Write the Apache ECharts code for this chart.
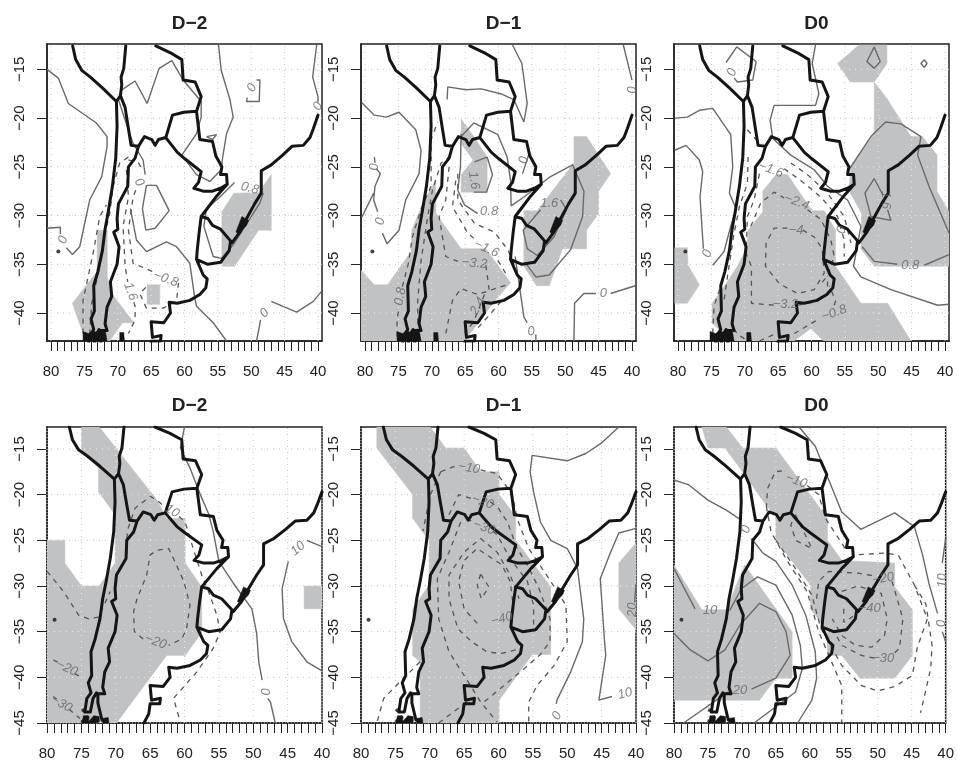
<!DOCTYPE html>
<html><head><meta charset="utf-8">
<style>html,body{margin:0;padding:0;background:#fff}#c{width:957px;height:761px}</style>
<script src="https://cdn.jsdelivr.net/npm/echarts@6/dist/echarts.min.js"></script>
</head><body><div id="c"></div>
<script>
// ---- tick labels ----
const lonMajor = [80,75,70,65,60,55,50,45,40];
const lonMinor = [80,79,78,77,76,75,74,73,72,71,70,69,68,67,66,65,64,63,62,61,60,59,58,57,56,55,54,53,52,51,50,49,48,47,46,45,44,43,42,41,40];
const latTop = [-15,-20,-25,-30,-35,-40];
const latBottom = [-15,-20,-25,-30,-35,-40,-45];
const titles = ['D\u22122','D\u22121','D0','D\u22122','D\u22121','D0'];

// ---- map outlines [lon, lat] ----
const coastPacific = [[76.75,-12.6],[76.3,-14],[75.4,-15.1],[74.1,-15.8],[72.3,-16.9],[70.2,-18.3],[70.1,-20.8],[70.3,-24.1],[70.8,-27],[71.4,-29.5],[71.9,-31.4],[72.3,-33.6],[73,-35.8],[73.6,-37.2],[73.5,-39.8],[74,-40.6],[73.6,-41.7],[74.2,-42.3],[74.5,-43.8],[73.7,-43.8],[73.3,-42.3],[72.8,-41.7]];
const borderAndesNorth = [[68.8,-12.6],[69.1,-14.9],[69.5,-15.8],[69.4,-16.6],[69.6,-17.7],[70.2,-18.3]];
const borderAndes = [[69.6,-17.7],[68.9,-18.9],[68.4,-21.1],[68,-22.8],[66.9,-22.9],[67.4,-24.1],[68.4,-25],[68.5,-27],[69.9,-28.8],[70.1,-30.3],[70,-31.4],[70.6,-31.7],[69.8,-33.2],[70.1,-35],[71.1,-36.8],[70.9,-38.3],[71.6,-39.4],[71.9,-41.1],[71.6,-41.8],[72.6,-41.8],[72.6,-42.8],[72,-44.7],[71.3,-44.7]];
const borderParaguay = [[66.9,-22.9],[66,-21.9],[64.9,-22.2],[64.4,-22.8],[63.9,-22.2],[62.8,-22],[61.1,-23.5],[59.9,-24.2],[57.5,-25.5],[57.9,-26.6],[58.6,-27.2],[57.2,-27.5],[55.8,-27.5],[54.6,-27.2],[53.6,-26.8],[53.7,-25.8],[54.6,-25.8],[54.4,-25],[55.3,-23.9],[55.8,-22.4],[57.7,-22.2],[58.2,-19.3],[60.1,-19.4],[61.8,-19.7],[62.8,-22]];
const borderBolivia = [[58.2,-19.3],[57.5,-17.8],[58.4,-16.3],[60.2,-16.1],[60.4,-14],[62.1,-13.3],[64.3,-12.6]];
const borderRiverUruguay = [[53.6,-26.8],[55.3,-28.1],[57.5,-30.1],[56.5,-30.3],[55.8,-31],[54.6,-31.4],[53.1,-32.6]];
const coastUruguay = [[57.5,-30.1],[57.8,-31.7],[58.1,-33.6],[58.2,-34.5],[56.5,-35],[54.6,-34.8],[53.3,-33.6],[53.1,-32.6]];
const coastArgentina = [[58.2,-34.5],[57.2,-36.1],[56.6,-36.5],[56.8,-37.4],[57.7,-38.1],[59.2,-38.7],[61.1,-39],[62.3,-38.9],[62.1,-40],[63.1,-41],[65,-40.9],[64.8,-42.5],[63.5,-42.3],[63.6,-42.9],[65,-42.9],[65.2,-44],[65.9,-45]];
const coastBrazil = [[40,-19.7],[40.7,-21.1],[41.2,-22],[42.2,-22.8],[43.9,-22.9],[45.3,-23.8],[47,-24.8],[48.5,-25.4],[48.5,-27.7],[49.5,-28.8],[50.7,-30.3],[51.7,-31.7],[52.9,-32.8],[53.1,-32.6]];
const lagoon = [[51.4,-30.1],[50.4,-30.5],[50.7,-31],[51.9,-31.9],[52.3,-31.7]];
const fuegoBlobsBottom = [[74.7,-44.2],[74,-44.2],[73.9,-44.8],[73.2,-44.2],[72.4,-44.3],[72.4,-44.9],[73,-45],[74.9,-45]];
const fuegoBlobsBottomEast = [[71.9,-44.5],[71.1,-44.4],[71,-45],[71.9,-45]];
const fuegoBlobsTop = [[75.2,-41.9],[74.4,-42.1],[73.6,-41.9],[72.8,-42],[71.9,-41.7],[71.6,-42.87],[75.2,-42.87]];
const chiloeBlob = [[69.7,-42],[69.1,-42],[69,-42.87],[69.7,-42.87]];
const islandPoint = [[78.9,-33.7]];
const fuegoPoints = [[74.7,-43.6],[74.1,-44.4],[74.8,-44.8]];

// ---- top row, D-2 ----
const t1Shade1 = [[73.07,-31.5],[71.57,-31.5],[71.57,-36.3],[70.9,-38],[67.6,-41],[69.3,-41],[71.2,-42.87],[74.8,-42.87],[76.8,-39],[73.1,-35.75]];
const t1Shade2 = [[65.6,-37.1],[63.7,-37.1],[63.7,-39.1],[65.6,-39.1]];
const t1Shade3 = [[54.4,-29.6],[52.6,-27.7],[48.9,-27.65],[47,-25.8],[47,-31.5],[48.9,-31.5],[52.5,-35.2],[54.4,-35.2]];
const t1Solid1 = [[80.6,-15],[78.9,-15.9],[77.4,-18.5],[73.2,-20.5],[71.6,-21.9],[71.6,-22.9],[72.4,-26],[74.2,-28.4],[75.7,-33.2],[76.8,-34],[77.7,-33.3]];
const t1Solid2 = [[78.6,-31.9],[78.6,-31.2],[80.6,-31.3]];
const t1Solid3 = [[69.9,-18.1],[69.4,-17.1],[67.4,-16.2],[65.6,-18.5],[63.8,-14.9],[61.9,-14.1],[60.2,-16.1],[57.5,-18.3],[57.5,-19.9],[58.2,-21.6],[60.4,-23.8],[58.2,-25.8],[56.2,-26.5],[54.5,-25.3],[54.3,-24.1],[53.7,-21.6],[52.7,-19.9],[53.2,-18.1],[54.5,-15.1],[54.9,-12.5]];
const t1Solid4 = [[69.9,-18.1],[68.9,-20.2],[67.7,-22.6],[66.2,-24.3],[65.9,-25.8]];
const t1Solid5 = [[65.7,-26.9],[64.2,-26.9],[62.3,-29.5],[64.4,-31.3],[65.8,-31.5],[66.3,-29.3],[65.7,-26.9]];
const t1Solid6 = [[68.1,-29.3],[67.2,-32.5],[65.7,-33.7],[62.7,-32.7],[61.2,-33.2],[59.2,-34.9],[58.5,-38.3],[58.2,-39.3],[55.7,-41],[53.7,-42.87]];
const t1Solid7 = [[49.2,-42.87],[48.6,-40.7]];
const t1Solid8 = [[47,-38.8],[43.2,-39.9],[40.7,-38.8],[39.5,-37.8]];
const t1Solid9 = [[40.2,-12.5],[40.8,-15.8],[40,-17.8],[40,-18.4]];
const t1Solid10 = [[49.2,-16.1],[48.7,-16.1],[48.8,-18.3],[50.7,-18.3],[50.6,-17.9]];
const t1Solid11 = [[52.5,-26.6],[54.7,-28.1],[56.7,-29.3],[57.1,-31.1],[55.7,-34.2],[54.5,-34.4],[52.7,-33],[48.7,-28.7],[48.2,-27.7]];
const t1Solid12 = [[56.7,-21.9],[55.2,-21.7],[55.8,-22.2],[56.7,-21.9]];
const t1Dash1 = [[75.2,-42.1],[75.2,-38.7],[73.7,-33.9],[72.7,-30.1],[71.7,-28.9]];
const t1Dash2 = [[68.4,-24],[69.7,-24.6],[70.7,-27],[71.2,-29.8],[71.9,-31.8],[72.7,-35.2],[73.9,-39],[74.2,-42.1]];
const t1Dash3 = [[68.4,-24.3],[66.9,-24.6],[66.2,-25.4]];
const t1Dash4 = [[68.7,-25.3],[68.4,-28.1],[69.2,-31.1],[68.9,-35.2],[68.5,-36.8]];
const t1Dash5 = [[67.6,-38.9],[67.4,-39.3],[67.4,-40.7],[68.4,-42.1]];
const t1Dash6 = [[67.3,-27.4],[67.7,-28.1],[68.4,-31.5],[67.7,-34.9],[64.2,-35.9]];
const t1Dash7 = [[60.9,-36.9],[60.7,-37.1],[61.2,-38.8],[63.2,-39.5],[65.7,-39.5],[66.7,-38],[65.7,-37.3]];
const t1Labels = [[78.2,-32.5,'0',70],[66.8,-26.6,'0',-60],[50.2,-27.2,'0.8',-15],[62.8,-36.5,'\u22120.8',-20],[68.1,-37.8,'1.6',-70],[48,-40,'0',45],[49.9,-16.9,'0',60],[40,-18.8,'0',60]];

// ---- top row, D-1 ----
const t2Shade1 = [[80.6,-35.6],[78.6,-37.1],[76.6,-37.1],[73.1,-33.7],[73,-31.5],[71.1,-28.4],[69.4,-26.4],[69.4,-29.8],[65.6,-33.4],[61.9,-33.4],[58.2,-36.9],[60.6,-38.8],[65.1,-42.87],[80.6,-42.87]];
const t2Shade2 = [[65.6,-20.1],[63.7,-21.9],[61.7,-24],[61.7,-27.6],[65.6,-27.6],[65.6,-25.8],[63.8,-24.3],[65.6,-22.6]];
const t2Shade3 = [[48.7,-21.9],[46.8,-21.9],[43.2,-25.7],[45,-27.5],[45,-29.8],[46.8,-31.5],[46.8,-33.4],[50.4,-33.4],[52.4,-37.2],[54.3,-37.2],[56.2,-35.2],[56.2,-29.5],[54.2,-29.5],[48.7,-24.6]];
const t2Solid1 = [[80.5,-18.4],[78.6,-19.7],[76.8,-19.9],[74.9,-19.4],[72.4,-21.2],[71.6,-23.3],[71.9,-25.7],[73.9,-28.4],[74.9,-31.5],[76.7,-32.9],[77.4,-31.8]];
const t2Solid2 = [[78.1,-29.6],[78.7,-28.4],[78.5,-27],[77.7,-25.7],[78.3,-25.2]];
const t2Solid3 = [[78.5,-24.6],[78.6,-24]];
const t2Solid4 = [[80.5,-30.2],[78.7,-27.7]];
const t2Solid5 = [[57.9,-12.5],[56.5,-14.4],[55.7,-18.5],[56.2,-20.4],[57.7,-18.1],[59.7,-17.5],[62.6,-17],[64.9,-17.1],[67.6,-16.8],[67.7,-18.1]];
const t2Solid6 = [[65.6,-21.6],[65.7,-25],[66.1,-27.4],[65.1,-28.9],[63.1,-29.8]];
const t2Solid7 = [[61.7,-24],[63.6,-24.5]];
const t2Solid8 = [[63.7,-27.6],[61.8,-27.6],[60.9,-25.8],[61.7,-24]];
const t2Solid9 = [[65.6,-21.9],[63.7,-20.5],[60.1,-21.7],[58.7,-24],[58.2,-26.4],[58.1,-29],[56.2,-28.1],[52.2,-26],[48.9,-24.8],[47.2,-27.5],[47.4,-30.1],[49.2,-33.5],[52.4,-36.1],[54.4,-36.3],[55.9,-34.9]];
const t2Solid10 = [[53.7,-29.4],[56.3,-31.5],[55.7,-33.4],[54.2,-34.1],[51.7,-32.2],[49.8,-29.4],[50.7,-28.4]];
const t2Solid11 = [[41.3,-12.5],[40,-16.1]];
const t2Solid12 = [[48.7,-42.87],[48.6,-39],[47.2,-38],[45.4,-38]];
const t2Solid13 = [[43.2,-38],[39.5,-37.2]];
const t2Solid14 = [[57.5,-34.2],[56.7,-38],[56.2,-40.4],[55.7,-41]];
const t2Solid15 = [[56.4,-25.7],[55.4,-23.6]];
const t2Solid16 = [[54.4,-42.2],[54.4,-42.87]];
const t2Dash1 = [[75.2,-42.4],[75.2,-40.7],[74.9,-39.5]];
const t2Dash2 = [[74.4,-37.3],[73.5,-34.9],[72.9,-32.2],[71.6,-29.3],[70.1,-27],[70.1,-22.2],[69.1,-20.4]];
const t2Dash3 = [[72.1,-42.1],[72.1,-38.7],[71.6,-34.6],[70.6,-30.1],[69.9,-27.4],[68.6,-24.6],[67.4,-24]];
const t2Dash4 = [[67.4,-25],[67.9,-28.4],[68.9,-30.1],[67.9,-34.2],[66.1,-34.7]];
const t2Dash5 = [[61.9,-35.1],[61.4,-37.6]];
const t2Dash6 = [[66.4,-26.4],[66.9,-29.1],[64.6,-31.8],[63.1,-32.7]];
const t2Dash7 = [[60.1,-34.6],[58.6,-36.3]];
const t2Dash8 = [[66.1,-25.7],[66.1,-28.4],[63.6,-30.8],[60.6,-31.7],[58.6,-33.5],[57.2,-35.8]];
const t2Dash9 = [[67.9,-42.1],[66.9,-38.7],[65.6,-37.5],[63.1,-38.1],[61.4,-37.7],[58.7,-37.1]];
const t2Dash10 = [[62.1,-38.1],[63.5,-40.5]];
const t2Dash11 = [[63.8,-41],[65.1,-42]];
const t2Dash12 = [[59.6,-38.8],[61.6,-40.4],[63.2,-41.6]];
const t2Labels = [[78.6,-25,'0',90],[77.7,-30.6,'0',80],[40,-17.1,'0',90],[63.7,-26.4,'1.6',-80],[61.4,-29.6,'0.8',0],[61.8,-33.4,'\u22121.6',-25],[63.6,-34.9,'\u22123.2',-5],[74.7,-38.3,'0.8',80],[63.1,-39.3,'2.4',60],[52.4,-28.8,'1.6',0],[44.3,-38,'0',0],[55.1,-41.9,'0',10],[56.2,-24.3,'0',80]];

// ---- top row, D0 ----
const t3Shade1 = [[80.5,-33.3],[78.6,-33.3],[78.5,-35.1],[76.8,-37.1],[78.6,-39],[80.5,-39]];
const t3Shade2 = [[56.1,-14.4],[52.9,-12.5],[48.7,-12.5],[48.7,-14.4],[50.6,-16.3],[48.6,-18.1],[45.1,-21.9],[43.4,-21.9],[41.2,-23.8],[41.2,-27.5],[39.4,-29.6],[39.4,-35.2],[50.6,-35.2],[52.6,-33.4],[52.5,-29.8],[54.4,-27.4],[54.1,-25],[50.6,-21.6],[50.6,-16.3],[54.2,-16.3]];
const t3Shade3 = [[74.9,-39],[73.1,-37.3],[71.1,-35.2],[69.6,-33.2],[69.5,-31.5],[67.3,-29.6],[67.3,-27.5],[65.3,-25.8],[63.6,-25.8],[59.9,-29.5],[58.1,-29.5],[56.4,-31.5],[56.4,-35.2],[52.6,-39],[48.6,-39],[45.1,-42.87],[58.2,-42.87],[60.1,-41.6],[62.6,-42.87],[72.1,-42.87],[74.9,-41]];
const t3Solid1 = [[80.5,-20],[78.6,-19.9],[76.8,-19.2],[74.8,-19],[72.1,-21.7],[71.8,-25],[72.3,-27.7],[71.3,-29.3],[72.1,-31.1],[73.1,-33.7],[74.8,-35.1]];
const t3Solid2 = [[80.5,-23.3],[78.8,-22.8],[76.8,-24.3],[76.3,-25.5],[76.7,-28.1],[76.2,-33.4]];
const t3Solid3 = [[72.8,-14.3],[71.2,-12.7],[68.3,-14.2],[68.8,-16.1],[71.1,-16.3],[71.6,-15.9]];
const t3Solid4 = [[50.6,-12.7],[49.7,-14.2],[50.6,-14.9],[51.7,-14.2],[50.6,-12.7]];
const t3Solid5 = [[43.1,-14],[42.7,-14.4],[43.1,-14.8],[43.6,-14.4],[43.1,-14]];
const t3Solid6 = [[59.4,-12.5],[59.9,-14.4],[58.9,-17.5],[59.4,-18.7],[65.6,-18.7],[66.2,-20.2],[65.8,-22.1],[63.1,-23.8],[59.6,-25.3],[57.6,-27],[54.6,-28.4],[52.6,-31.1],[53.7,-35.2],[52.6,-36.3],[48.1,-37.6],[41.1,-39.2],[39.4,-39.1]];
const t3Solid7 = [[54.4,-25.3],[51.1,-21.9],[48.9,-20.4],[46.6,-20.6],[43.6,-21.9],[44.1,-23.8],[42.4,-27],[39.4,-31.8]];
const t3Solid8 = [[52.4,-33.2],[50.6,-34.7],[47.1,-35]];
const t3Solid9 = [[43.1,-35.1],[39.4,-34]];
const t3Solid10 = [[49.3,-27.9],[50.6,-26.2],[52,-27.7],[51.1,-30.1],[48.1,-30.5],[48.6,-29.4]];
const t3Dash1 = [[74.8,-42.1],[74.6,-39.3],[73.3,-36.6]];
const t3Dash2 = [[69.5,-24],[69.6,-26.7],[70.8,-29.1],[71.6,-31.8],[72.6,-36.3],[73.1,-38.7]];
const t3Dash3 = [[67.8,-25.7],[68.6,-28.4],[69.6,-30.1],[69.8,-33.9],[69,-35.2],[69,-39],[65.6,-39.2]];
const t3Dash4 = [[62.1,-39.2],[59.1,-38.8],[57.6,-38],[57.6,-36.2]];
const t3Dash5 = [[69.1,-31.1],[67.6,-28.7],[65.6,-27.6],[64.1,-28.2]];
const t3Dash6 = [[60.6,-29.4],[58.6,-30.4],[57.1,-32.5],[56.6,-34.2],[57.6,-36.2],[58.6,-37]];
const t3Dash7 = [[63.6,-31.3],[65.6,-31.3],[66.8,-32.8],[66.9,-35.2],[64.8,-37],[62.1,-38],[59.6,-37.6],[58.1,-35.9],[58.4,-33.4],[59.6,-32.2],[61.3,-31.5]];
const t3Dash8 = [[62.6,-42.1],[59.1,-40.7]];
const t3Dash9 = [[56.6,-39.2],[56.4,-38.8],[57.3,-37.2]];
const t3Dash10 = [[64.1,-25.2],[61.6,-26.4],[58.6,-28.1],[56.1,-30.1],[55.1,-32.5],[55.1,-34.2]];
const t3Dash11 = [[63.1,-24.6],[60.6,-25.8],[57.6,-27.7],[55.1,-30.1],[54.1,-32.8]];
const t3Dash12 = [[69.6,-21.2],[67.8,-22.6]];
const t3Dash13 = [[71.6,-41.6],[71.1,-42.2],[69.6,-42.8]];
const t3Dash14 = [[67.8,-42.87],[65.6,-42.2]];
const t3Labels = [[71.9,-15.3,'0',70],[75.6,-33.9,'0',70],[55.5,-31.5,'0',70],[66.1,-25.3,'\u22121.6',-20],[62.2,-28.6,'\u22122.4',-20],[62.3,-31.5,'\u22124',0],[63.9,-39.1,'\u22123.2',0],[56.6,-40,'\u22120.8',20],[45.2,-35.1,'0.8',0],[48.9,-28.4,'1.6',-90]];

// ---- bottom row, D-2 ----
const b1Shade1 = [[75,-12.6],[72.4,-12.6],[64,-20.6],[62.6,-22.6],[59.9,-22.6],[59.9,-27.5],[57.5,-30.1],[57.5,-35.1],[59.9,-37.6],[62.6,-37.6],[69.9,-45],[80,-45],[80,-25],[77.4,-25],[77.4,-27.5],[75,-30],[72.4,-30],[70.1,-27.5],[70.1,-22.2],[72.5,-19.7],[72.5,-17.1],[75,-15.1]];
const b1Shade2 = [[42.6,-30],[40,-30],[40,-32.5],[42.6,-32.5]];
const b1Solid1 = [[60,-12.6],[60.6,-14.9],[59.2,-17.1],[57.7,-20],[56.5,-22.1],[55.8,-24.1],[55,-27.3],[52.9,-29.7],[50.2,-32.5],[49.5,-35.2],[49.2,-38.3],[48.7,-40.3]];
const b1Solid2 = [[47.9,-42.3],[47.5,-42.7],[46.8,-45]];
const b1Solid3 = [[44.9,-27.3],[45.8,-30.3],[45.6,-33.6],[44.4,-36.1],[42.2,-38.3],[40,-39.3]];
const b1Solid4 = [[42.2,-25],[40,-25.7]];
const b1Dash1 = [[80,-28.4],[77.6,-30.6],[75.4,-33.2],[73.9,-33.6],[72.5,-33.4],[70.8,-30.6]];
const b1Dash2 = [[79.1,-38.1],[78.3,-38.4]];
const b1Dash3 = [[76,-39.6],[74.7,-40.1]];
const b1Dash4 = [[79.1,-42.1],[78.6,-42.4]];
const b1Dash5 = [[76.8,-43.5],[75.2,-44.5]];
const b1Dash6 = [[66,-35.8],[67.3,-35],[67.4,-32.8],[66.9,-31.4],[65.5,-28.8],[65,-26.6],[64,-26.1],[62.3,-25.9],[61.6,-27],[60.1,-29.5],[59.2,-32.1],[59.7,-34.7],[60.4,-35.8],[62.3,-36.5]];
const b1Dash7 = [[68.4,-24.8],[68.2,-23.7],[67.2,-21.5],[65,-20.2],[64,-20.6],[63.1,-21.2]];
const b1Dash8 = [[60.8,-22.4],[59.9,-23],[58.9,-25.5],[57.5,-28.8],[56.3,-31],[55.3,-33.2],[54.8,-35],[55.8,-36.8],[58.2,-39.4],[61.6,-42.3],[60.6,-44.9]];
const b1Labels = [[61.8,-21.8,'10',-30],[64.2,-36.1,'\u221220',-20],[77.1,-39,'\u221220',-25],[77.9,-42.9,'\u221230',-30],[48.1,-41.6,'0',90],[43.5,-25.9,'10',40]];

// ---- bottom row, D-1 ----
const b2Shade1 = [[77.7,-12.6],[69.9,-12.6],[67.7,-14.9],[65,-14.9],[62.6,-17.5],[59.9,-17.5],[59.9,-20],[57.5,-22.4],[57.5,-25],[52.4,-30.1],[52.4,-37.5],[55.1,-37.5],[59.9,-42.5],[59.9,-45],[71.4,-45],[71.4,-38.3],[72.5,-37.6],[72.5,-32.5],[70.1,-29.9],[70.1,-25],[72.5,-22.6],[72.5,-20],[77.7,-14.9]];
const b2Shade2 = [[40,-25.3],[42.5,-27.5],[42.5,-32.5],[40,-34.8]];
const b2Solid1 = [[42.5,-12.6],[45.1,-14.4],[47.3,-15.5],[50,-16.3],[55.1,-15.7],[55.4,-17.5],[54.9,-19.7],[53.9,-23],[52.4,-25],[50,-25.9],[48.5,-28.1],[47.6,-33.6],[47.8,-36.1],[49.5,-39.4],[51.5,-42.5],[51.6,-42.9]];
const b2Solid2 = [[40,-23.7],[42.5,-24.2],[43.7,-26.3],[45.2,-29.2],[44.6,-35.8],[44.4,-37.6],[45.4,-42.5],[43.5,-42.1]];
const b2Solid3 = [[40,-29.8],[40.2,-31.8]];
const b2Dash1 = [[68.4,-17.5],[66.4,-16.9]];
const b2Dash2 = [[62.6,-17.3],[60.2,-17.7],[58,-20],[57.3,-22.6],[55.6,-25.9],[52.4,-29.5],[50.2,-32.1],[50,-36.1],[51.9,-38.7],[54.4,-40.9],[55.6,-42.7],[55.6,-45]];
const b2Dash3 = [[71.4,-38.3],[73.8,-40.1],[76.7,-42.3],[77.7,-45]];
const b2Dash4 = [[68.4,-17.5],[69.9,-20],[71,-24]];
const b2Dash5 = [[67.2,-22.2],[65.8,-20],[63.7,-20.5]];
const b2Dash6 = [[61.2,-20.8],[60.2,-21.3],[58.7,-23],[57.3,-25.9],[55.8,-27.7],[54.1,-30.3],[52.5,-33.6],[52.5,-36.1],[53.9,-37.5],[56.8,-39.4],[62.1,-42.7]];
const b2Dash7 = [[64.6,-22.6],[63.5,-23.1]];
const b2Dash8 = [[60.8,-24],[60.2,-24.4],[58.3,-27],[55.8,-29.5],[54.9,-32.1],[54.9,-34.3]];
const b2Dash9 = [[65.5,-23],[67.2,-26.3],[68.9,-29.2],[68.7,-33.6],[67.2,-37.2],[65,-39.8],[62.6,-42.7],[60.2,-44.9]];
const b2Dash10 = [[57.5,-37],[59.7,-37.4],[61.7,-37.2],[63.9,-36.1],[65.9,-34.7],[67.2,-31.4],[67.2,-28.8],[65,-26.3],[62.6,-24.8],[60.2,-26.3],[58.3,-28.8],[57,-31.4]];
const b2Dash11 = [[63.1,-34.1],[65,-32.5],[65.8,-29.5],[65,-27.2],[63.1,-25.9],[59.5,-27.7],[58.3,-29.5],[57.8,-32.5]];
const b2Dash12 = [[62.6,-28.7],[61.4,-30.1],[62.5,-31.4],[63.1,-29.9],[62.6,-28.7]];
const b2Dash13 = [[68.7,-45],[64.6,-42.7]];
const b2Labels = [[64.3,-17.1,'\u221210',-10],[62.3,-20.8,'\u221220',-20],[62.1,-23.6,'\u221230',-20],[59.5,-33.6,'\u221240',15],[51.5,-44.2,'0',60],[41.6,-41.8,'10',15],[40.5,-32.6,'20',90]];

// ---- bottom row, D0 ----
const b3Shade1 = [[75.9,-12.6],[72.3,-12.6],[69.9,-14.9],[65,-14.9],[57.4,-22.6],[57.4,-25],[55.3,-27.2],[47.5,-27.5],[47.5,-30.1],[44.9,-32.6],[44.9,-37.6],[47.5,-40.1],[52.6,-40.1],[55.3,-37.6],[57.4,-37.6],[57.4,-35],[59.9,-32.5],[59.9,-29.9],[65,-25],[65,-22.4],[66.5,-21.1],[69.9,-17.5],[72.5,-14.9],[75,-14.9]];
const b3Shade2 = [[80,-27.7],[75.9,-32.6],[72.3,-32.6],[69.6,-27.7],[62.6,-35],[62.6,-40.1],[65,-40.1],[67.4,-42.5],[80,-42.5]];
const b3Solid1 = [[80,-18.4],[77.9,-18.9],[75,-20.6],[72.3,-21.7],[70.1,-22.8]];
const b3Solid2 = [[68.6,-24.8],[66.9,-26.4],[65,-27.3],[62.6,-29.9],[60.6,-33.2],[59.2,-37.2],[59,-40.1],[59.7,-42.5],[61.8,-45]];
const b3Solid3 = [[80,-28.1],[76.9,-32.5]];
const b3Solid4 = [[71.8,-32.7],[70.1,-30.3],[67.7,-29],[65,-29.9],[62.6,-33.2],[61.4,-36.5],[61.1,-39],[62.1,-41.6],[68.2,-45]];
const b3Solid5 = [[80,-35.2],[77.6,-37],[75,-38.2],[72.5,-37],[70.3,-34.3],[67.4,-31.9],[65,-32.8],[63.5,-35],[62.9,-37.6],[65,-40.1],[68.6,-41.3]];
const b3Solid6 = [[72,-41.6],[78.6,-45]];
const b3Solid7 = [[61.6,-12.6],[59.2,-14.7],[57.7,-17.5],[55.3,-21.9],[52.5,-23.8],[47.5,-22],[44.6,-23.5],[43.4,-26.6],[42.4,-29.9],[41.2,-33]];
const b3Solid8 = [[40.5,-35],[40,-36.1]];
const b3Solid9 = [[40,-24.8],[40.5,-27.5]];
const b3Dash1 = [[66.4,-21.3],[65.7,-24.1],[63.3,-27.3],[60.4,-30.6],[58.7,-35],[57.2,-37.6],[55.3,-40.9],[55.3,-45]];
const b3Dash2 = [[65,-25],[62.1,-28.1],[59.7,-31],[58.4,-34.6],[55.3,-38.7],[52.4,-40.9],[50,-41.5],[47.5,-41],[44.9,-39.8],[44.2,-36.8],[42.7,-33.6],[44.6,-29.9],[47,-26.6],[49,-26.4],[53.4,-26.6]];
const b3Dash3 = [[44.6,-29.9],[42.9,-32],[42,-36.5],[42.2,-39],[43.2,-42.3],[43.7,-43.9]];
const b3Dash4 = [[64.1,-17.4],[65.1,-17.5],[66.2,-19.3],[66.4,-21.3]];
const b3Dash5 = [[60.4,-19],[58.7,-20],[57.7,-22.6],[54.8,-25.9]];
const b3Dash6 = [[62.1,-22.2],[59.7,-25.9],[62.1,-25],[62.8,-23.3],[62.1,-22.2]];
const b3Dash7 = [[59,-31.4],[58.7,-29.5],[57.2,-28.4],[52.9,-28.6],[50.5,-28.9]];
const b3Dash8 = [[47.9,-29.5],[47.5,-30.5],[46.3,-33.6],[46.8,-36.8],[47.9,-37.6]];
const b3Dash9 = [[50.5,-37.9],[52.4,-37.6],[55.3,-36.5],[56.2,-35.3]];
const b3Dash10 = [[55.3,-30.6],[52.9,-30],[49.5,-30.8],[48.6,-33.6],[49,-35.4],[50.9,-36.7],[53.3,-36.5],[55.3,-35.4],[56.7,-33.6]];
const b3Dash11 = [[55,-32.5],[55,-34],[53,-33]];
const b3Labels = [[62,-18.5,'\u221210',-20],[69.4,-23.8,'0',70],[74.7,-32.7,'10',0],[70.3,-41.4,'20',0],[49.2,-29.2,'\u221220',10],[51.2,-32.5,'\u221240',0],[49.2,-37.9,'\u221230',0],[40.7,-34.1,'0',90],[40.5,-29.4,'10',90]];

// ---- panels ----
const mapLines = [coastPacific,borderAndesNorth,borderAndes,borderParaguay,borderBolivia,borderRiverUruguay,coastUruguay,coastArgentina,coastBrazil];
const panels = [
 {shade:[t1Shade1,t1Shade2,t1Shade3], solid:[t1Solid1,t1Solid2,t1Solid3,t1Solid4,t1Solid5,t1Solid6,t1Solid7,t1Solid8,t1Solid9,t1Solid10,t1Solid11,t1Solid12], dash:[t1Dash1,t1Dash2,t1Dash3,t1Dash4,t1Dash5,t1Dash6,t1Dash7], labels:t1Labels},
 {shade:[t2Shade1,t2Shade2,t2Shade3], solid:[t2Solid1,t2Solid2,t2Solid3,t2Solid4,t2Solid5,t2Solid6,t2Solid7,t2Solid8,t2Solid9,t2Solid10,t2Solid11,t2Solid12,t2Solid13,t2Solid14,t2Solid15,t2Solid16], dash:[t2Dash1,t2Dash2,t2Dash3,t2Dash4,t2Dash5,t2Dash6,t2Dash7,t2Dash8,t2Dash9,t2Dash10,t2Dash11,t2Dash12], labels:t2Labels},
 {shade:[t3Shade1,t3Shade2,t3Shade3], solid:[t3Solid1,t3Solid2,t3Solid3,t3Solid4,t3Solid5,t3Solid6,t3Solid7,t3Solid8,t3Solid9,t3Solid10], dash:[t3Dash1,t3Dash2,t3Dash3,t3Dash4,t3Dash5,t3Dash6,t3Dash7,t3Dash8,t3Dash9,t3Dash10,t3Dash11,t3Dash12,t3Dash13,t3Dash14], labels:t3Labels},
 {shade:[b1Shade1,b1Shade2], solid:[b1Solid1,b1Solid2,b1Solid3,b1Solid4], dash:[b1Dash1,b1Dash2,b1Dash3,b1Dash4,b1Dash5,b1Dash6,b1Dash7,b1Dash8], labels:b1Labels},
 {shade:[b2Shade1,b2Shade2], solid:[b2Solid1,b2Solid2,b2Solid3], dash:[b2Dash1,b2Dash2,b2Dash3,b2Dash4,b2Dash5,b2Dash6,b2Dash7,b2Dash8,b2Dash9,b2Dash10,b2Dash11,b2Dash12,b2Dash13], labels:b2Labels},
 {shade:[b3Shade1,b3Shade2], solid:[b3Solid1,b3Solid2,b3Solid3,b3Solid4,b3Solid5,b3Solid6,b3Solid7,b3Solid8,b3Solid9], dash:[b3Dash1,b3Dash2,b3Dash3,b3Dash4,b3Dash5,b3Dash6,b3Dash7,b3Dash8,b3Dash9,b3Dash10,b3Dash11], labels:b3Labels}
];

const FONT = '"Liberation Sans", Arial, sans-serif';
const INK = '#222';
const lefts = [47,361,674];
const joined = lists => { const o=[]; lists.forEach((l,i)=>{ if(i) o.push(['-','-']); l.forEach(p=>o.push(p)); }); return o; };

const option = {animation:false, backgroundColor:'#fff', title:[], grid:[], xAxis:[], yAxis:[], series:[]};

panels.forEach((p,i)=>{
  const top = i<3;
  const lats = top ? latTop : latBottom;
  const xr = top ? [39.4,80.6] : [40,80];
  const yr = top ? [-42.87,-12.4] : [-45,-12.6];
  const left = lefts[i%3];
  const gTop = top ? 44 : 427;
  const gH = top ? 297 : 296;
  option.title.push({text:titles[i], left:left+137.5, top:top?8:390, textAlign:'center',
    textStyle:{fontFamily:FONT,fontWeight:'bold',fontSize:19,color:'#222',lineHeight:22}});
  option.grid.push({left,top:gTop,width:275,height:gH,show:true,borderColor:INK,borderWidth:1.5,backgroundColor:'#fff'});
  option.xAxis.push({type:'value',gridIndex:i,inverse:true,min:xr[0],max:xr[1],
    axisLine:{show:true,onZero:false,lineStyle:{color:INK,width:1.5}},
    axisTick:{show:true,length:10,customValues:lonMinor,lineStyle:{color:INK,width:1}},
    axisLabel:{show:true,customValues:lonMajor,margin:23,fontFamily:FONT,fontSize:15,color:INK,hideOverlap:false},
    splitLine:{show:false}});
  option.yAxis.push({type:'value',gridIndex:i,min:yr[0],max:yr[1],
    axisLine:{show:true,onZero:false,lineStyle:{color:INK,width:1.5}},
    axisTick:{show:true,length:10,customValues:lats,lineStyle:{color:INK,width:1}},
    axisLabel:{show:true,customValues:lats,rotate:90,margin:20,fontFamily:FONT,fontSize:15,color:INK,hideOverlap:false,
      formatter:v=>'\u2212'+Math.abs(v)},
    splitLine:{show:false}});

  const gridData = joined([
    ...lonMajor.map(x=>[[x,yr[0]],[x,yr[1]]]),
    ...lats.map(y=>[[xr[0],y],[xr[1],y]])]);
  const base = {type:'line',xAxisIndex:i,yAxisIndex:i,showSymbol:false,symbol:'none',silent:true,connectNulls:false,animation:false};
  const polySeries = (polys,color,z)=>({type:'custom',xAxisIndex:i,yAxisIndex:i,silent:true,clip:true,z,
    data:polys.map((_,k)=>[k]),
    renderItem:(params,api)=>({type:'polygon',shape:{points:polys[api.value(0)].map(c=>api.coord(c))},style:{fill:color,stroke:color,lineWidth:0.5}})});

  option.series.push({...base,z:1,data:gridData,lineStyle:{color:'#c4c4c4',width:1,type:[1,5]}});
  option.series.push(polySeries(p.shade,'#c1c2c4',2));
  option.series.push({...base,z:3,data:gridData,lineStyle:{color:'#eeeeee',width:1,type:[1,5],dashOffset:3}});
  option.series.push({...base,z:4,data:joined(p.solid),lineStyle:{color:'#6a6a6a',width:1.4}});
  option.series.push({...base,z:4,data:joined(p.dash),lineStyle:{color:'#555',width:1.3,type:[5,5]}});
  option.series.push({...base,z:5,data:joined(mapLines),lineStyle:{color:'#151515',width:3,join:'round',cap:'round'}});
  const blobs = top ? [lagoon,fuegoBlobsTop,chiloeBlob] : [lagoon,fuegoBlobsBottom,fuegoBlobsBottomEast];
  option.series.push(polySeries(blobs,'#151515',5));
  option.series.push({type:'scatter',xAxisIndex:i,yAxisIndex:i,silent:true,z:5,symbolSize:4,itemStyle:{color:'#151515'},data:top?islandPoint:islandPoint.concat(fuegoPoints)});
  option.series.push({type:'scatter',xAxisIndex:i,yAxisIndex:i,silent:true,z:6,symbolSize:1,itemStyle:{color:'rgba(0,0,0,0)'},
    data:p.labels.map(l=>({value:[l[0],l[1]],label:{show:true,position:'inside',formatter:l[2],rotate:l[3],
      fontFamily:FONT,fontStyle:'italic',fontSize:13,color:'#666'}}))});
});

echarts.init(document.getElementById('c'),null,{renderer:'canvas'}).setOption(option);
</script></body></html>
